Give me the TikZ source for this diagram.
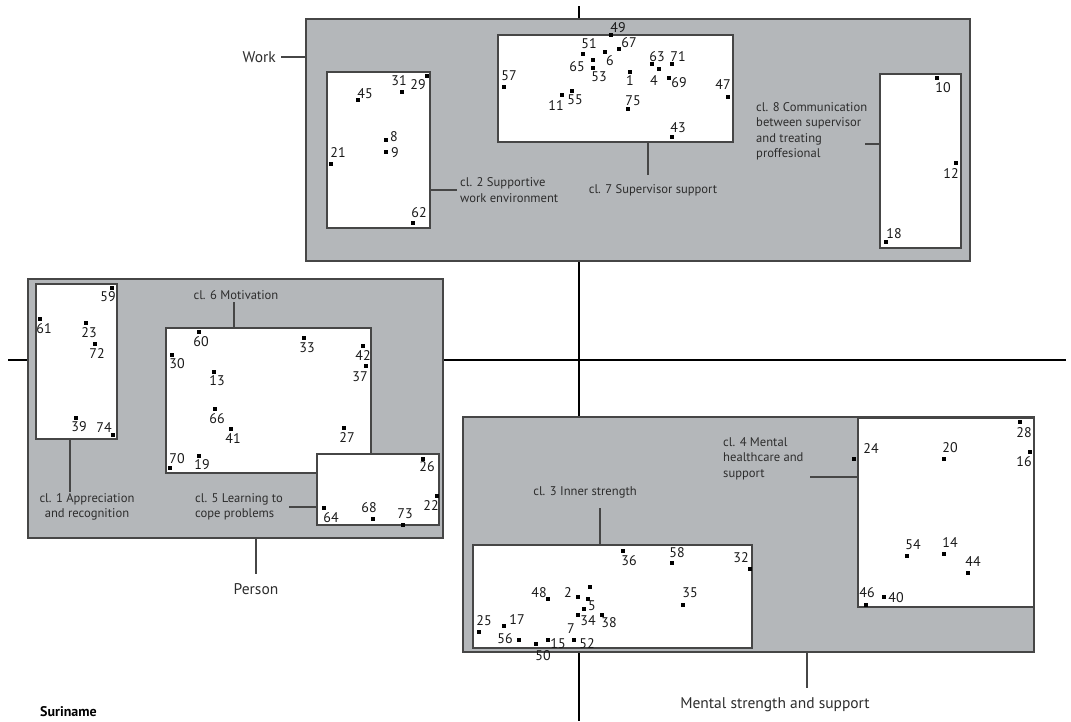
\documentclass[tikz,border=0pt]{standalone}
\usepackage{fontspec}
\setmainfont{PT Sans}
\definecolor{panel}{RGB}{180,183,186}
\definecolor{edge}{RGB}{70,70,70}
\definecolor{labeltext}{RGB}{45,45,45}
\definecolor{numtext}{RGB}{25,25,25}
\newcommand\mkpt[5]{\node[mk] (m#1) at (#2,#3) {};\node[num] (n#1) at (#4,#5) {#1};}
\begin{document}
\begin{tikzpicture}[x=1pt,y=-1pt,
 box/.style={draw=edge, line width=1.3pt, inner sep=0pt, outer sep=0pt, anchor=north west},
 graybox/.style={box, fill=panel},
 whitebox/.style={box, fill=white, line width=1.1pt},
 mk/.style={fill=black, inner sep=0pt, minimum size=3.8pt, draw=none},
 num/.style={font=\fontsize{14}{15}\selectfont, text=numtext, inner sep=0pt},
 cl/.style={font=\fontsize{12.6}{15.5}\selectfont, text=labeltext, inner sep=0pt},
 dim/.style={font=\fontsize{15.5}{17}\selectfont, text=labeltext, inner sep=0pt},
 lead/.style={draw=edge, line width=1.1pt},
 axis/.style={draw=black, line width=1.8pt}]
\useasboundingbox (0,0) rectangle (1071,721);
% axes
\coordinate (axL) at (8,360);
\coordinate (axR) at (1066,360);
\coordinate (axT) at (579,6);
\coordinate (axB) at (579,721);
\draw[axis] (axL) -- (axR);
\draw[axis] (axT) -- (axB);
% ---------- Work ----------
\node[graybox, minimum width=664pt, minimum height=242pt] (work) at (306,19) {};
\node[whitebox, minimum width=103pt, minimum height=156pt] (c2) at (327,72) {};
\node[whitebox, minimum width=235pt, minimum height=107pt] (c7) at (498,35) {};
\node[whitebox, minimum width=81pt, minimum height=174pt] (c8) at (880,74) {};
\node[dim, anchor=east] (workL) at (276,57) {Work};
\draw[lead] ([xshift=5pt]workL.east) -- (work.west |- workL.east);
\node[cl, anchor=west, align=left] (c2L) at (460,190) {cl. 2 Supportive\\work environment};
\draw[lead] (c2.east |- c2L.west) -- ([xshift=-3pt]c2L.west);
\node[cl] (c7L) at (653,190) {cl. 7 Supervisor support};
\coordinate (c7a) at (648,142);
\coordinate (c7b) at (648,175);
\draw[lead] (c7a) -- (c7b);
\node[cl, anchor=north west, align=left] (c8L) at (756,102) {cl. 8 Communication\\between supervisor\\and treating\\proffesional};
\coordinate (c8a) at (865,144);
\draw[lead] (c8a) -- (c8.west |- c8a);
% cluster 2 points
\mkpt{29}{427}{76}{418}{85}
\mkpt{31}{402}{92}{399}{81}
\mkpt{45}{358}{100}{365}{94}
\mkpt{8}{386}{140}{394}{137}
\mkpt{9}{386}{152}{395}{153}
\mkpt{21}{331}{164}{338}{153}
\mkpt{62}{413}{223}{419}{213}
% cluster 7 points
\mkpt{49}{611}{35}{618}{28}
\mkpt{67}{619}{49}{629}{43}
\mkpt{51}{583}{54}{589}{44}
\mkpt{6}{605}{52}{610}{61}
\mkpt{65}{593}{60}{577}{67}
\mkpt{53}{593}{68}{599}{77}
\mkpt{1}{630}{72}{630}{81}
\mkpt{63}{652}{64}{657}{57}
\mkpt{71}{672}{64}{678}{57}
\mkpt{4}{659}{69}{654}{81}
\mkpt{69}{669}{78}{679}{83}
\mkpt{57}{504}{87}{509}{76}
\mkpt{47}{728}{97}{723}{85}
\mkpt{11}{562}{95}{556}{106}
\mkpt{55}{572}{91}{575}{100}
\mkpt{75}{628}{109}{633}{101}
\mkpt{43}{672}{137}{678}{128}
% cluster 8 points
\mkpt{10}{937}{78}{943}{88}
\mkpt{12}{956}{163}{951}{174}
\mkpt{18}{886}{242}{894}{234}
% ---------- Person ----------
\node[graybox, minimum width=415pt, minimum height=259pt] (person) at (28,279) {};
\node[whitebox, minimum width=81pt, minimum height=155pt] (c1) at (36,284) {};
\node[whitebox, minimum width=205pt, minimum height=145pt] (c6) at (166,328) {};
\node[whitebox, minimum width=122pt, minimum height=71pt] (c5) at (317,454) {};
\node[dim] (personL) at (256,589) {Person};
\draw[lead] (person.south -| personL.north) -- ([yshift=9pt]personL.north);
\node[cl, align=center] (c1L) at (87,507) {cl. 1 Appreciation\\and recognition};
\coordinate (c1a) at (70,492);
\draw[lead] (c1.south -| c1a) -- (c1a);
\node[cl] (c6L) at (236,295) {cl. 6 Motivation};
\coordinate (c6a) at (234,302);
\draw[lead] (c6a) -- (c6.north -| c6a);
\node[cl, anchor=west, align=left] (c5L) at (195,507) {cl. 5 Learning to\\cope problems};
\coordinate (c5a) at (289,507);
\draw[lead] (c5a) -- (c5.west |- c5a);
% cluster 1 points
\mkpt{59}{112}{288}{108}{297}
\mkpt{61}{40}{319}{44}{329}
\mkpt{23}{86}{323}{89}{333}
\mkpt{72}{95}{344}{97}{354}
\mkpt{39}{76}{418}{79}{427}
\mkpt{74}{113}{435}{104}{428}
% cluster 6 points
\mkpt{60}{199}{332}{201}{342}
\mkpt{33}{304}{338}{307}{348}
\mkpt{42}{363}{346}{363}{356}
\mkpt{30}{172}{355}{177}{364}
\mkpt{37}{366}{366}{360}{377}
\mkpt{13}{214}{372}{217}{381}
\mkpt{66}{215}{409}{217}{419}
\mkpt{41}{231}{429}{233}{439}
\mkpt{27}{344}{428}{347}{438}
\mkpt{70}{170}{468}{177}{459}
\mkpt{19}{199}{456}{202}{465}
% cluster 5 points
\mkpt{26}{423}{459}{427}{467}
\mkpt{22}{437}{496}{431}{506}
\mkpt{64}{324}{508}{331}{518}
\mkpt{68}{373}{519}{369}{508}
\mkpt{73}{403}{525}{405}{514}
% ---------- Mental strength and support ----------
\node[graybox, minimum width=571pt, minimum height=235pt] (mental) at (463,417) {};
\node[whitebox, minimum width=279pt, minimum height=103pt] (c3) at (473,545) {};
\node[whitebox, minimum width=176pt, minimum height=189pt] (c4) at (858,418) {};
\node[dim] (mentalL) at (775,705) {Mental strength and support};
\coordinate (ma) at (807,688);
\draw[lead] (mental.south -| ma) -- (ma);
\node[cl] (c3L) at (585,492) {cl. 3 Inner strength};
\coordinate (c3a) at (600,508);
\draw[lead] (c3a) -- (c3.north -| c3a);
\node[cl, anchor=north west, align=left] (c4L) at (723,437) {cl. 4 Mental\\healthcare and\\support};
\coordinate (c4a) at (810,477);
\draw[lead] (c4a) -- (c4.west |- c4a);
% cluster 3 points
\mkpt{25}{479}{632}{484}{621}
\mkpt{17}{504}{626}{517}{620}
\mkpt{56}{519}{640}{505}{639}
\mkpt{50}{536}{644}{543}{656}
\mkpt{15}{548}{640}{558}{644}
\mkpt{52}{574}{640}{587}{644}
\mkpt{7}{588}{599}{571}{629}
\mkpt{34}{578}{615}{588}{621}
\mkpt{38}{602}{615}{609}{623}
\mkpt{5}{584}{609}{592}{606}
\mkpt{2}{578}{597}{568}{593}
\mkpt{48}{548}{599}{539}{593}
\node[mk] (mx) at (590,587) {};
\mkpt{36}{623}{551}{629}{561}
\mkpt{58}{672}{563}{677}{553}
\mkpt{32}{750}{569}{741}{558}
\mkpt{35}{683}{605}{690}{593}
% cluster 4 points
\mkpt{28}{1020}{422}{1024}{433}
\mkpt{24}{854}{459}{871}{449}
\mkpt{20}{944}{459}{950}{448}
\mkpt{16}{1030}{452}{1024}{462}
\mkpt{54}{907}{556}{913}{545}
\mkpt{14}{944}{554}{950}{543}
\mkpt{44}{968}{573}{973}{562}
\mkpt{46}{866}{605}{867}{593}
\mkpt{40}{884}{597}{896}{598}
% country
\node[font=\bfseries\fontsize{14}{15}\selectfont, anchor=west, inner sep=0pt] (country) at (40,712) {Suriname};
\end{tikzpicture}
\end{document}
